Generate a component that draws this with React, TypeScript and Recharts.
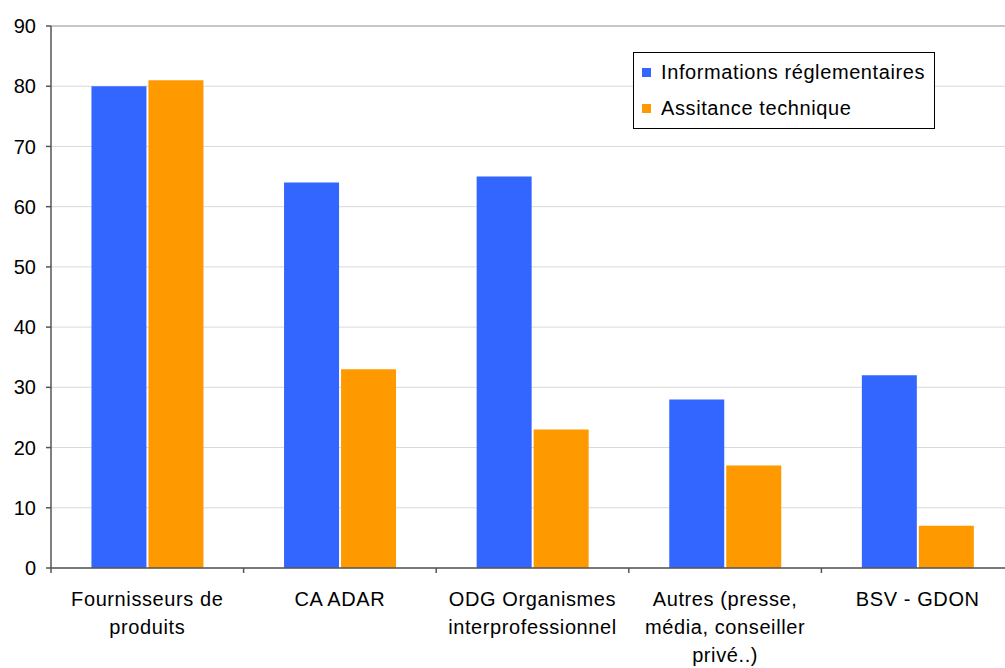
import { BarChart, Bar, XAxis, YAxis, CartesianGrid, ReferenceLine } from "recharts"

const categories = [
  "Fournisseurs de\nproduits",
  "CA ADAR",
  "ODG Organismes\ninterprofessionnel",
  "Autres (presse,\nmédia, conseiller\nprivé..)",
  "BSV - GDON",
]
const infoReglementaires = [80, 64, 65, 28, 32]
const assistanceTechnique = [81, 33, 23, 17, 7]
const yTicks = [0, 10, 20, 30, 40, 50, 60, 70, 80, 90]

const data = categories.map((c, i) => ({
  name: c,
  info: infoReglementaires[i],
  assist: assistanceTechnique[i],
}))

const CHART_W = 1020
const PLOT_LEFT = 51
const PLOT_RIGHT = 1014
const BAND = (PLOT_RIGHT - PLOT_LEFT) / categories.length
const FONT = "Liberation Sans, Arial, sans-serif"

function CategoryTick(props: any) {
  const { x, y, payload } = props
  const lines = String(payload.value).split("\n")
  const left = x - BAND / 2
  return (
    <g>
      <line x1={left} y1={y - 8} x2={left} y2={y - 3} stroke="#555" strokeWidth={1.5} />
      <text x={x} y={y + 30} textAnchor="middle" fontSize={20} letterSpacing={0.6} fontFamily={FONT} fill="#000">
        {lines.map((l, i) => (
          <tspan key={i} x={x} dy={i === 0 ? 0 : 28}>
            {l}
          </tspan>
        ))}
      </text>
    </g>
  )
}

function LegendBox() {
  const items = [
    { label: "Informations réglementaires", color: "#3366FF" },
    { label: "Assitance technique", color: "#FF9900" },
  ]
  return (
    <div
      style={{
        position: "absolute",
        left: 633,
        top: 52,
        width: 302,
        height: 77,
        border: "1px solid #000",
        background: "#fff",
        fontFamily: FONT,
        fontSize: 20,
        letterSpacing: 0.6,
        boxSizing: "border-box",
      }}
    >
      {items.map((it, i) => (
        <div key={i} style={{ position: "absolute", left: 8, top: 8 + i * 36, display: "flex", alignItems: "center", whiteSpace: "nowrap" }}>
          <span style={{ width: 9, height: 9, background: it.color, display: "inline-block", marginRight: 10 }} />
          <span>{it.label}</span>
        </div>
      ))}
    </div>
  )
}

export default function App() {
  return (
    <div style={{ position: "absolute", left: 0, top: 0, width: 1005, height: 668, overflow: "hidden", background: "#fff" }}>
      <BarChart
        width={CHART_W}
        height={668}
        data={data}
        margin={{ top: 26, right: CHART_W - PLOT_RIGHT, left: 0, bottom: 0 }}
        barCategoryGap="21%"
        barGap={2}
      >
        <CartesianGrid vertical={false} stroke="#d9d9d9" />
        <ReferenceLine y={90} stroke="#bbbbbb" strokeWidth={1.5} />
        <XAxis
          dataKey="name"
          interval={0}
          height={100}
          tickLine={false}
          axisLine={{ stroke: "#555", strokeWidth: 1.5 }}
          tick={<CategoryTick />}
        />
        <YAxis
          width={PLOT_LEFT}
          domain={[0, 90]}
          ticks={yTicks}
          interval={0}
          tickSize={5}
          tickMargin={10}
          tickLine={{ stroke: "#555", strokeWidth: 1.5 }}
          axisLine={{ stroke: "#555", strokeWidth: 1.5 }}
          tick={{ fontSize: 20, fontFamily: FONT, fill: "#000" }}
        />
        <Bar dataKey="info" fill="#3366FF" isAnimationActive={false} />
        <Bar dataKey="assist" fill="#FF9900" isAnimationActive={false} />
      </BarChart>
      <LegendBox />
    </div>
  )
}
